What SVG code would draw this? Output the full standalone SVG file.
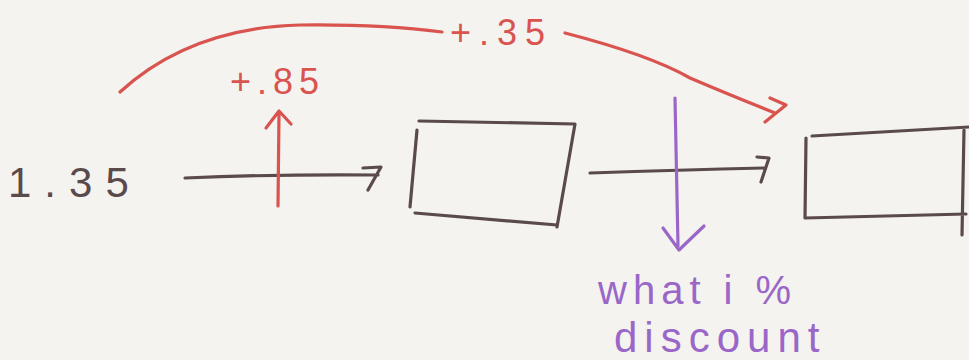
<svg xmlns="http://www.w3.org/2000/svg" width="969" height="360" viewBox="0 0 969 360">
<defs>
<style>
.ink{fill:none;stroke-linecap:round;stroke-linejoin:round;stroke-width:3.2}
.dark{stroke:#5b4a4c}
.red{stroke:#d9534f}
.purple{stroke:#9a67c8}
.t{font-family:"Liberation Sans","DejaVu Sans",sans-serif;font-weight:normal}
</style>
</defs>
<rect width="969" height="360" fill="#f4f3ef"/>
<g id="start">
<text class="t" x="8" y="197" font-size="42" letter-spacing="13" fill="#5b4a4c">1.35</text>
</g>
<g id="box1">
<path class="ink dark" d="M419 121 L575 124 L557 227 M415 213 L557 225 M417 130 L410 207"/>
</g>
<g id="box2">
<path class="ink dark" d="M812 136 L969 127 M806 138 L805 218 L966 214 M964 130 L962 235"/>
</g>
<g id="connectors">
<path class="ink dark" d="M185 178 Q280 174 378 175 M363 168 L381 167 L368 190"/>
<path class="ink dark" d="M590 173 Q680 170 765 168 M757 157 L769 158 L761 182"/>
<path class="ink red" d="M278 206 L279 113 M266 128 L279 111 L291 124"/>
<path class="ink red" d="M120 92 Q190 28 300 25 Q380 24 442 32 M565 33 Q650 55 690 78 Q730 95 775 113 M770 98 L786 105 L765 122"/>
<path class="ink purple" d="M675 98 L678 246 M663 228 L679 250 L704 226"/>
</g>
<g id="labels">
<text class="t" x="230" y="94" font-size="36" letter-spacing="6" fill="#d9534f">+.85</text>
<text class="t" x="450" y="45" font-size="36" letter-spacing="8" fill="#d9534f">+.35</text>
<text class="t" x="598" y="304" font-size="40" letter-spacing="6" fill="#9a67c8">what i %</text>
<text class="t" x="614" y="352" font-size="42" letter-spacing="7" fill="#9a67c8">discount</text>
</g>
</svg>
